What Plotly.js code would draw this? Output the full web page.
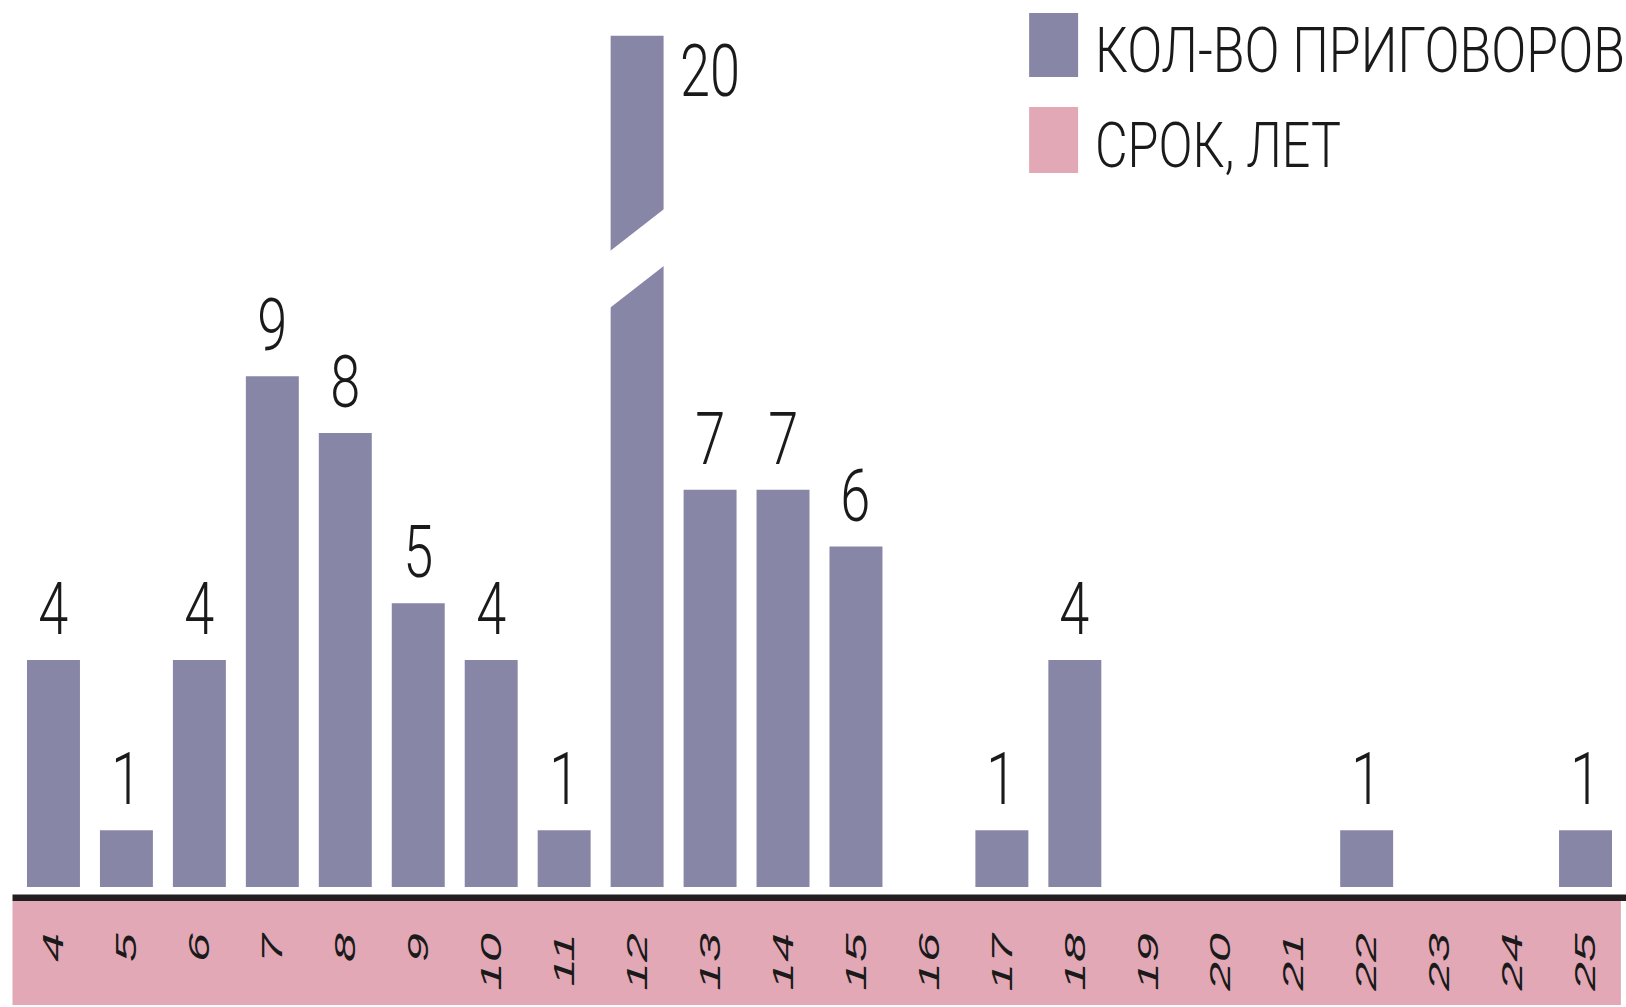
<!DOCTYPE html>
<html>
<head>
<meta charset="utf-8">
<script src="https://cdn.plot.ly/plotly-3.0.1.min.js"></script>
<style>
  html, body { margin: 0; padding: 0; background: #ffffff; }
  #chart { width: 1626px; height: 1007px; }
</style>
</head>
<body>
<div id="chart"></div>
<script>
// ---- data ----
const terms = [4, 5, 6, 7, 8, 9, 10, 11, 12, 13, 14, 15, 16, 17, 18, 19, 20, 21, 22, 23, 24, 25];
const counts = [4, 1, 4, 9, 8, 5, 4, 1, 20, 7, 7, 6, 0, 1, 4, 0, 0, 0, 1, 0, 0, 1];
const tickLabels = terms.map(String);
const seriesNames = ['КОЛ-ВО ПРИГОВОРОВ', 'СРОК, ЛЕТ'];

// ---- axis break (values above BREAK_TO are drawn shortened) ----
const BREAK_FROM = 13;
const BREAK_TO = 18;
const shown = v => (v > BREAK_TO ? v - (BREAK_TO - BREAK_FROM) : v);
const displayCounts = counts.map(shown);

// ---- style ----
const BAR_COLOR = '#8886a6';
const BAND_COLOR = '#e2a8b6';
const LINE_COLOR = '#231f20';
const TEXT_FONT = 'Roboto, "Liberation Sans Narrow", "DejaVu Sans Condensed", "Liberation Sans", Arial, sans-serif';
const SANS = '"Liberation Sans", Arial, Helvetica, sans-serif';

const W = 1626, H = 1007;
const M = { l: 16.5, r: 3.9, t: 0, b: 120 };
const PW = W - M.l - M.r, PH = H - M.t - M.b;
const px = x => (x - M.l) / PW;          // page pixel -> paper x
const py = y => (M.t + PH - y) / PH;      // page pixel -> paper y
const UNIT = 56.75;                       // pixels per count
const BARGAP = 0.274;

const trace = {
  type: 'bar',
  name: seriesNames[0],
  x: terms,
  y: displayCounts,
  customdata: counts,
  marker: { color: BAR_COLOR, line: { width: 0 } },
  hovertemplate: 'Срок: %{x} лет<br>Приговоров: %{customdata}<extra></extra>',
  showlegend: false
};

const annotations = [];
const shapes = [];
const numFont = { family: TEXT_FONT, size: 73, weight: 300, color: '#1a1a1a' };

// value labels
terms.forEach((t, i) => {
  const v = counts[i];
  if (!v) return;
  if (v > BREAK_TO) {
    annotations.push({
      x: t, y: displayCounts[i], xref: 'x', yref: 'y',
      text: String(v), showarrow: false,
      xanchor: 'left', yanchor: 'top', xshift: 41, yshift: 10,
      font: numFont, name: 'num'
    });
    // diagonal break mark across the shortened bar
    const mid = 10.575;       // centre of the lower cut edge (in drawn units)
    const slope = 1.0;        // rise in units per category width
    const gap = 1.0;          // height of the white cut
    const hw = (1 - BARGAP) / 2 + 0.06;
    const yl = mid - slope * hw, yr = mid + slope * hw;
    shapes.push({
      type: 'path', xref: 'x', yref: 'y', layer: 'above',
      path: `M ${t - hw} ${yl} L ${t + hw} ${yr} L ${t + hw} ${yr + gap} L ${t - hw} ${yl + gap} Z`,
      fillcolor: '#ffffff', line: { width: 0 }
    });
  } else {
    annotations.push({
      x: t, y: displayCounts[i], xref: 'x', yref: 'y',
      text: String(v), showarrow: false,
      xanchor: 'center', yanchor: 'bottom', yshift: 6,
      font: numFont, name: 'num'
    });
  }
});

// baseline band and line
shapes.push({
  type: 'rect', xref: 'paper', yref: 'paper', layer: 'below',
  x0: px(12), x1: px(1621), y0: py(1005), y1: py(901),
  fillcolor: BAND_COLOR, line: { width: 0 }
});
shapes.push({
  type: 'rect', xref: 'paper', yref: 'paper', layer: 'below',
  x0: px(12), x1: px(W + 2), y0: py(901), y1: py(894.5),
  fillcolor: LINE_COLOR, line: { width: 0 }
});

// legend
const legendColors = [BAR_COLOR, BAND_COLOR];
const legendRows = [{ top: 13, bottom: 77, mid: 50 }, { top: 107, bottom: 173, mid: 145 }];
seriesNames.forEach((name, k) => {
  const r = legendRows[k];
  shapes.push({
    type: 'rect', xref: 'paper', yref: 'paper', layer: 'above',
    x0: px(1029), x1: px(1078), y0: py(r.bottom), y1: py(r.top),
    fillcolor: legendColors[k], line: { width: 0 }
  });
  annotations.push({
    xref: 'paper', yref: 'paper', x: px(1093), y: py(r.mid),
    xanchor: 'left', yanchor: 'middle', showarrow: false,
    text: name, align: 'left',
    font: { family: TEXT_FONT, size: 63, weight: 300, color: '#1a1a1a' },
    name: 'leg' + k
  });
});

const layout = {
  width: W, height: H,
  margin: M,
  paper_bgcolor: '#ffffff', plot_bgcolor: 'rgba(0,0,0,0)',
  bargap: BARGAP,
  xaxis: {
    type: 'linear', range: [terms[0] - 0.5, terms[terms.length - 1] + 0.5],
    tickmode: 'array', tickvals: terms, ticktext: tickLabels,
    tickangle: -90, ticks: 'outside', ticklen: 33, tickcolor: 'rgba(0,0,0,0)',
    tickfont: { family: SANS, size: 30, style: 'italic', color: '#1a1a1a' },
    showgrid: false, zeroline: false, showline: false, fixedrange: true
  },
  yaxis: {
    range: [0, PH / UNIT], visible: false, fixedrange: true
  },
  shapes: shapes,
  annotations: annotations,
  showlegend: false
};

function stretch(el, k, cx) {
  const prev = el.getAttribute('transform') || '';
  el.setAttribute('transform', `${prev} translate(${cx},0) scale(${k},1) translate(${-cx},0)`);
}

Plotly.newPlot('chart', [trace], layout, { displayModeBar: false }).then(gd => {
  // condense the tall labels horizontally to mimic the compressed typeface
  const targets = { num: 30, leg0: 530, leg1: 246 }; // target widths in px
  let numScale = null;
  gd.querySelectorAll('.annotation').forEach(g => {
    const a = annotations[+g.getAttribute('data-index')];
    const t = g.querySelector('text.annotation-text');
    if (!t || !a) return;
    const bb = t.getBBox();
    let k;
    if (a.name === 'num') {
      if (numScale === null) numScale = (targets.num * t.textContent.length) / bb.width;
      k = numScale;
    } else {
      k = targets[a.name] / bb.width;
    }
    stretch(t, k, a.xanchor === 'left' ? bb.x : bb.x + bb.width / 2);
  });
  // tick labels are drawn stretched along their reading direction
  const ticks = gd.querySelectorAll('.xaxislayer-above .xtick text');
  let tickScale = null;
  ticks.forEach(t => {
    const bb = t.getBBox();
    if (tickScale === null || t.textContent.length === 2 && tickScale.len === 1) {
      tickScale = { k: (29 * t.textContent.length) / bb.width, len: t.textContent.length };
    }
  });
  ticks.forEach(t => {
    const bb = t.getBBox();
    stretch(t, tickScale.k, bb.x + bb.width);
  });
});
</script>
</body>
</html>
